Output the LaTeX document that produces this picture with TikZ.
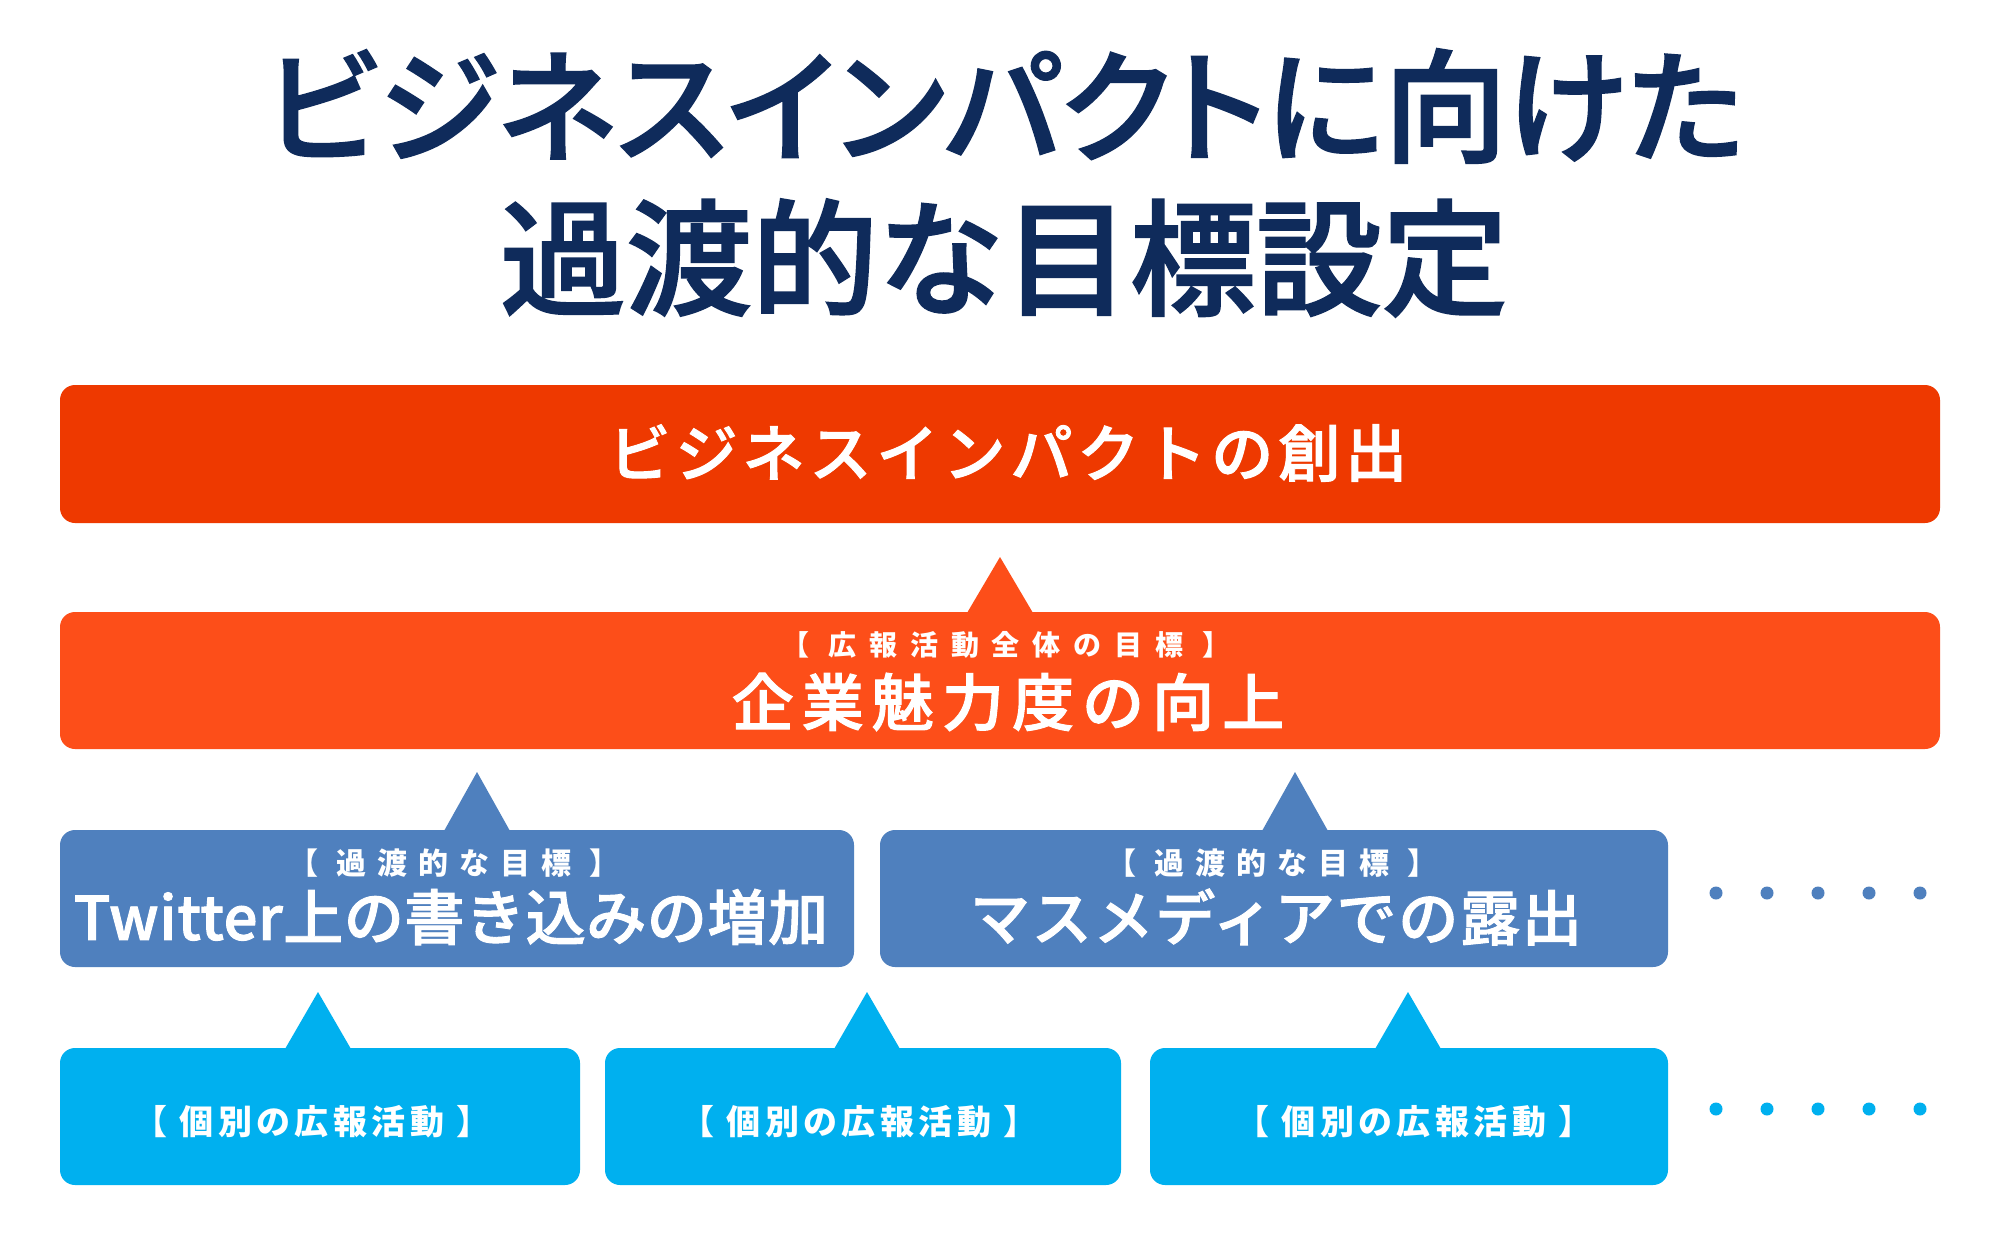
\documentclass[tikz,border=0pt]{standalone}
\usepackage{fontspec}
\newfontfamily\jp{Noto Sans CJK JP}
\newfontfamily\jpm{Noto Sans CJK JP Medium}[FakeBold=1.6]
\usetikzlibrary{calc}
\definecolor{navy}{HTML}{0F2B5B}
\definecolor{redbar}{HTML}{EE3900}
\definecolor{orbar}{HTML}{FD4E19}
\definecolor{midblue}{HTML}{4F80BE}
\definecolor{cyanbox}{HTML}{00B0EF}
\newcommand{\fsz}[2]{\fontsize{#1}{#1}\selectfont\addfontfeature{LetterSpace=#2}}
\begin{document}
\begin{tikzpicture}[x=1pt,y=-1pt,
  box/.style={rounded corners=15pt, inner sep=0pt, outer sep=0pt, anchor=north west, draw=none},
  txt/.style={text=white, inner sep=0pt, anchor=center, font=\jpm},
  subtxt/.style={text=white, inner sep=0pt, anchor=center, font=\jp\bfseries},
  dotm/.style={circle, fill=midblue, minimum size=13pt, inner sep=0pt},
  dotc/.style={circle, fill=cyanbox, minimum size=13pt, inner sep=0pt}]
\useasboundingbox[fill=white] (0,0) rectangle (2000,1234);

% title
\node[inner sep=0pt, text=navy, font=\jpm] (title1) at (1005,106)
  {\fontsize{123}{123}\selectfont\addfontfeature{RawFeature=+palt}ビジネスインパクトに向けた};
\node[inner sep=0pt, text=navy, font=\jpm] (title2) at (1004,258)
  {\fontsize{126}{126}\selectfont 過渡的な目標設定};

% boxes
\node[box, fill=redbar, minimum width=1880pt, minimum height=138pt] (impact) at (60,385) {};
\node[box, fill=orbar, minimum width=1880pt, minimum height=137pt] (overall) at (60,612) {};
\node[box, fill=midblue, minimum width=794pt, minimum height=137pt] (twitter) at (60,830) {};
\node[box, fill=midblue, minimum width=788pt, minimum height=137pt] (media) at (880,830) {};
\node[box, fill=cyanbox, minimum width=520pt, minimum height=137pt] (act1) at (60,1048) {};
\node[box, fill=cyanbox, minimum width=516pt, minimum height=137pt] (act2) at (605,1048) {};
\node[box, fill=cyanbox, minimum width=518pt, minimum height=137pt] (act3) at (1150,1048) {};

% triangles (pointing up to the level above)
\coordinate (a0) at ($(overall.north west)+(940,-55)$);
\fill[orbar] ($(a0)+(-33,56)$) -- (a0) -- ($(a0)+(33,56)$) -- cycle;
\coordinate (a1) at ($(twitter.north west)+(417,-58)$);
\fill[midblue] ($(a1)+(-33,59)$) -- (a1) -- ($(a1)+(33,59)$) -- cycle;
\coordinate (a2) at ($(media.north west)+(415,-58)$);
\fill[midblue] ($(a2)+(-33,59)$) -- (a2) -- ($(a2)+(33,59)$) -- cycle;
\coordinate (a3) at ($(act1.north west)+(258,-56)$);
\fill[cyanbox] ($(a3)+(-33,57)$) -- (a3) -- ($(a3)+(33,57)$) -- cycle;
\coordinate (a4) at ($(act2.north west)+(262,-56)$);
\fill[cyanbox] ($(a4)+(-33,57)$) -- (a4) -- ($(a4)+(33,57)$) -- cycle;
\coordinate (a5) at ($(act3.north west)+(258,-56)$);
\fill[cyanbox] ($(a5)+(-33,57)$) -- (a5) -- ($(a5)+(33,57)$) -- cycle;

% texts
\node[txt] (impactT) at (1008,453) {\fsz{62}{8}ビジネスインパクトの創出};
\node[subtxt] (overallS) at (1006,645) {\fsz{28}{46}【 広報活動全体の目標 】};
\node[txt] (overallT) at (1008,702) {\fsz{62}{13}企業魅力度の向上};
\node[subtxt] (twitterS) at (454,863) {\fsz{30}{37}【 過渡的な目標 】};
\node[txt] (twitterT) at (451,917) {\fsz{60}{1}Twitter上の書き込みの増加};
\node[subtxt] (mediaS) at (1272,863) {\fsz{30}{37}【 過渡的な目標 】};
\node[txt] (mediaT) at (1276,917) {\fsz{60}{3}マスメディアでの露出};
\node[subtxt] (act1T) at (312,1122) {\fsz{34}{13}【 個別の広報活動 】};
\node[subtxt] (act2T) at (859,1122) {\fsz{34}{13}【 個別の広報活動 】};
\node[subtxt] (act3T) at (1414,1122) {\fsz{34}{13}【 個別の広報活動 】};

% dots
\foreach \i in {0,...,4} {
  \node[dotm] (dm\i) at (1716+51*\i,893) {};
  \node[dotc] (dc\i) at (1716+51*\i,1109) {};
}
\end{tikzpicture}
\end{document}
